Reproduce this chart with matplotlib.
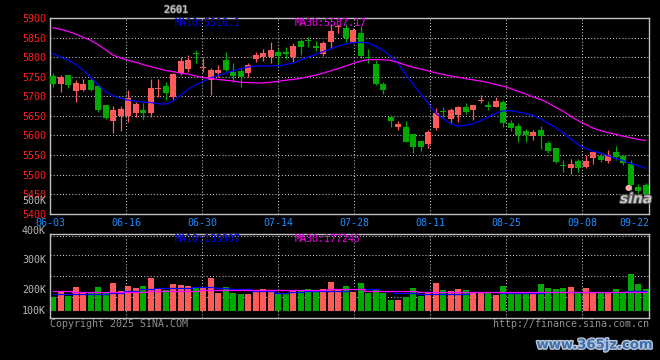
import numpy as np
import matplotlib
matplotlib.use("Agg")
import matplotlib.pyplot as plt
import matplotlib.patheffects as pe

# ---------------- data ----------------
date_labels = ["06-03", "06-16", "06-30", "07-14", "07-28", "08-11", "08-25", "09-08", "09-22"]
price_ticks = [5400, 5450, 5500, 5550, 5600, 5650, 5700, 5750, 5800, 5850, 5900]
vol_tick_labels = ["500K", "400K", "300K", "200K", "100K"]

opens = [5752, 5732, 5754, 5714, 5717, 5741, 5726, 5678, 5637, 5649,
         5649, 5658, 5665, 5658, 5719, 5726, 5697, 5759, 5770, 5809,
         5773, 5741, 5760, 5793, 5763, 5765, 5759, 5794, 5800, 5801,
         5814, 5814, 5800, 5842, 5842, 5828, 5808, 5838, 5876, 5874,
         5839, 5862, 5801, 5782, 5731, 5646, 5622, 5621, 5603, 5585,
         5578, 5619, 5661, 5642, 5652, 5672, 5665, 5687, 5678, 5673,
         5686, 5632, 5624, 5611, 5599, 5614, 5581, 5567, 5525, 5516,
         5534, 5520, 5543, 5548, 5534, 5558, 5548, 5527, 5469, 5473]
highs = [5760, 5754, 5755, 5741, 5745, 5748, 5731, 5678, 5676, 5676,
         5716, 5686, 5682, 5744, 5743, 5737, 5759, 5801, 5805, 5818,
         5797, 5771, 5780, 5814, 5784, 5775, 5784, 5814, 5820, 5839,
         5822, 5827, 5835, 5846, 5852, 5842, 5840, 5884, 5882, 5884,
         5874, 5880, 5822, 5793, 5737, 5652, 5637, 5637, 5603, 5585,
         5614, 5669, 5672, 5670, 5675, 5683, 5678, 5703, 5688, 5697,
         5690, 5639, 5631, 5616, 5614, 5624, 5586, 5567, 5537, 5539,
         5539, 5550, 5558, 5554, 5564, 5573, 5551, 5537, 5475, 5479]
lows = [5724, 5712, 5720, 5686, 5714, 5713, 5661, 5641, 5607, 5612,
        5635, 5648, 5642, 5648, 5699, 5690, 5690, 5754, 5763, 5784,
        5763, 5703, 5748, 5764, 5737, 5724, 5748, 5787, 5791, 5786,
        5781, 5794, 5784, 5805, 5825, 5816, 5804, 5822, 5862, 5838,
        5836, 5797, 5784, 5729, 5707, 5622, 5614, 5582, 5554, 5561,
        5567, 5614, 5646, 5631, 5635, 5656, 5639, 5682, 5665, 5673,
        5622, 5611, 5584, 5584, 5588, 5565, 5556, 5530, 5507, 5501,
        5507, 5517, 5528, 5533, 5530, 5537, 5524, 5460, 5453, 5443]
closes = [5731, 5750, 5730, 5735, 5732, 5717, 5665, 5644, 5665, 5667,
          5695, 5680, 5658, 5720, 5721, 5709, 5756, 5790, 5793, 5807,
          5775, 5767, 5767, 5767, 5752, 5748, 5780, 5805, 5811, 5818,
          5802, 5808, 5828, 5826, 5840, 5823, 5836, 5866, 5878, 5848,
          5869, 5803, 5799, 5731, 5716, 5637, 5628, 5584, 5571, 5571,
          5608, 5658, 5659, 5665, 5672, 5660, 5678, 5689, 5672, 5688,
          5631, 5619, 5601, 5601, 5609, 5599, 5560, 5533, 5523, 5527,
          5517, 5535, 5558, 5537, 5550, 5544, 5530, 5473, 5458, 5450]

ma10 = [5809, 5800, 5793, 5781, 5767, 5749, 5729, 5712, 5701, 5695,
        5690, 5688, 5685, 5684, 5681, 5680, 5688, 5703, 5718, 5729,
        5738, 5747, 5753, 5759, 5765, 5770, 5775, 5777, 5777, 5778,
        5778, 5781, 5785, 5793, 5800, 5807, 5814, 5821, 5828, 5834,
        5837, 5838, 5836, 5828, 5817, 5803, 5785, 5757, 5731, 5706,
        5683, 5657, 5643, 5630, 5624, 5626, 5630, 5638, 5647, 5656,
        5663, 5663, 5660, 5656, 5651, 5642, 5631, 5620, 5607, 5591,
        5577, 5566, 5560, 5555, 5548, 5541, 5536, 5528, 5523, 5516.1]
ma30 = [5875, 5871, 5866, 5859, 5851, 5843, 5832, 5819, 5805, 5798,
        5792, 5787, 5781, 5776, 5771, 5766, 5763, 5759, 5757, 5752,
        5748, 5746, 5743, 5741, 5739, 5736, 5735, 5734, 5734, 5736,
        5738, 5741, 5743, 5746, 5750, 5754, 5759, 5765, 5771, 5777,
        5784, 5790, 5793, 5794, 5793, 5792, 5786, 5780, 5774, 5770,
        5765, 5760, 5756, 5752, 5749, 5745, 5742, 5739, 5735, 5730,
        5726, 5720, 5713, 5706, 5698, 5692, 5683, 5672, 5662, 5649,
        5638, 5628, 5619, 5612, 5607, 5603, 5598, 5594, 5590, 5587.17]

volume_k = [131, 177, 140, 223, 162, 162, 223, 162, 260, 186,
            229, 214, 229, 305, 214, 193, 248, 239, 229, 208,
            217, 305, 168, 223, 168, 156, 156, 186, 202, 186,
            168, 156, 183, 183, 202, 186, 202, 269, 202, 229,
            177, 257, 168, 199, 168, 101, 101, 131, 214, 138,
            168, 260, 193, 186, 202, 193, 172, 177, 162, 147,
            229, 162, 162, 162, 162, 248, 214, 202, 214, 220,
            177, 214, 177, 162, 177, 202, 177, 339, 248, 202]
vol_ma10_k = [156, 156, 156, 156, 156, 156, 156, 156, 168, 168,
              183, 183, 199, 199, 214, 214, 214, 214, 214, 223,
              223, 223, 214, 214, 199, 199, 199, 183, 183, 183,
              168, 168, 177, 177, 186, 186, 186, 186, 186, 186,
              202, 202, 202, 202, 186, 186, 168, 168, 168, 156,
              156, 156, 156, 156, 156, 156, 177, 177, 177, 177,
              168, 168, 168, 168, 168, 168, 177, 177, 177, 177,
              177, 177, 177, 177, 177, 177, 177, 186, 186, 185.907]
vol_ma30_k = [186, 186, 186, 177, 177, 177, 177, 177, 177, 177,
              177, 177, 177, 186, 186, 186, 186, 186, 186, 186,
              193, 193, 193, 193, 193, 193, 193, 193, 193, 193,
              193, 193, 193, 190, 190, 190, 190, 199, 199, 199,
              199, 199, 186, 186, 186, 186, 186, 186, 186, 177,
              177, 177, 177, 177, 177, 177, 177, 177, 177, 177,
              172, 172, 172, 172, 172, 172, 172, 172, 177, 177,
              177, 177, 177, 177, 177, 177, 177, 177, 177, 177.245]

title_text = "2601"
ma_price_texts = ["MA10:5516.1", "MA30:5587.17"]
ma_vol_texts = ["MA10:185907", "MA30:177245"]

# ---------------- styling ----------------
W, H = 660, 360
BG = "black"
UP = "#ff5a5a"
DOWN = "#00aa00"
GRID = "#c8c8c8"
BORDER = "#c0c0c0"
MONO = "DejaVu Sans Mono"
dotted = (0, (1, 2))

def fx(px):
    return px / W

def fy(py):
    return 1 - py / H

fig = plt.figure(figsize=(W / 100, H / 100), dpi=100, facecolor=BG)

# axes placement in pixels
L, R = 50, 649.3
ax = fig.add_axes([fx(L), fy(213.7), fx(R - L), (213.7 - 18) / H], facecolor=BG)
axv = fig.add_axes([fx(L), fy(318.3), fx(R - L), (318.3 - 234.3) / H], facecolor=BG)

n = len(opens)
x = np.arange(n)
o = np.array(opens, float)
c = np.array(closes, float)
hi = np.array(highs, float)
lo = np.array(lows, float)
up = c >= o
cols = np.where(up, UP, DOWN)

xmin, xmax = -0.4, 79.5
grid_step = 76 / 7.5
grid_x = [xmin + k * grid_step for k in range(8)]

# --- price panel ---
ax.set_xlim(xmin, xmax)
ax.set_ylim(5400, 5900)
for gx in grid_x[1:]:
    ax.axvline(gx, color=GRID, lw=0.75, ls=dotted, zorder=0)
for p in price_ticks[1:-1]:
    ax.axhline(p, color=GRID, lw=0.75, ls=dotted, zorder=0)

ax.vlines(x, lo, hi, colors=cols, lw=0.9, zorder=2)
body_h = np.maximum(np.abs(c - o), 2.6)
ax.bar(x, body_h, bottom=np.minimum(o, c), width=0.8, color=cols, lw=0, zorder=3)
ax.plot(x, ma10, color="#0000ff", lw=0.9, zorder=4)
ax.plot(x, ma30, color="#ff00ff", lw=0.9, zorder=4)

ax.set_yticks(price_ticks)
ax.set_yticklabels([str(p) for p in price_ticks], color="#ff2020",
                   fontsize=7.2, family=MONO)
tick_pos = grid_x + [xmax]
ax.set_xticks(tick_pos)
ax.set_xticklabels(date_labels, color="#1e8cff", fontsize=7.2, family=MONO)
ax.get_xticklabels()[-1].set_ha("right")
ax.tick_params(length=0, pad=3)
for s in ax.spines.values():
    s.set_color(BORDER)
    s.set_linewidth(1)

# --- volume panel ---
vlo, vhi = -67, 704
axv.set_xlim(xmin, xmax)
axv.set_ylim(vlo, vhi)
for gx in grid_x[1:]:
    axv.axvline(gx, color=GRID, lw=0.75, ls=dotted, zorder=0)
for f in (0.25, 0.5, 0.75, 0.985):
    axv.axhline(vlo + f * (vhi - vlo), color=GRID, lw=0.75, ls=dotted, zorder=0)
axv.bar(x, volume_k, width=0.8, color=cols, lw=0, zorder=2)
axv.plot(x, vol_ma10_k, color="#0000ff", lw=0.9, zorder=3, drawstyle="steps-mid")
axv.plot(x, vol_ma30_k, color="#ff00ff", lw=0.9, zorder=3, drawstyle="steps-mid")
axv.set_xticks([])
axv.set_yticks([])
for s in axv.spines.values():
    s.set_color(BORDER)
    s.set_linewidth(1)

# volume axis labels (Sina places them irregularly)
vol_label_py = [200.7, 231, 260.3, 290.3, 310.8]
for lab, py in zip(vol_tick_labels, vol_label_py):
    fig.text(fx(46), fy(py), lab, color="#b8b8b8", fontsize=7.2, family=MONO,
             ha="right", va="center")

# --- texts ---
fig.text(fx(176), fy(9.7), title_text, color="#d0d0d0", fontsize=7.2, family=MONO,
         ha="center", va="center",
         path_effects=[pe.withStroke(linewidth=1.0, foreground="#606060")])
fig.text(fx(175), fy(23.3), ma_price_texts[0], color="#0000ff", fontsize=7.2,
         family=MONO, ha="left", va="center")
fig.text(fx(295), fy(23.3), ma_price_texts[1], color="#ff00ff", fontsize=7.2,
         family=MONO, ha="left", va="center")
fig.text(fx(175), fy(238.5), ma_vol_texts[0], color="#0000ff", fontsize=7.2,
         family=MONO, ha="left", va="center")
fig.text(fx(295), fy(238.5), ma_vol_texts[1], color="#ff00ff", fontsize=7.2,
         family=MONO, ha="left", va="center")
fig.text(fx(50), fy(324), "Copyright 2025 SINA.COM", color="#909090", fontsize=7.2,
         family=MONO, ha="left", va="center")
fig.text(fx(649.3), fy(324), "http://finance.sina.com.cn", color="#909090",
         fontsize=7.2, family=MONO, ha="right", va="center")

# sina logo watermark in the price panel
fig.text(fx(636), fy(199), "sina", color="#c8c8c8", fontsize=10, style="italic",
         weight="bold", ha="center", va="center",
         path_effects=[pe.withStroke(linewidth=1.5, foreground="#505050")])
fig.text(fx(628), fy(187), "\u25cf", color="#ffb0b0", fontsize=6,
         ha="center", va="center")

# site watermark
fig.text(fx(595), fy(345), "www.365jz.com", color="#3f6fae", fontsize=9.5,
         weight="bold", ha="center", va="center",
         path_effects=[pe.withStroke(linewidth=2, foreground="#b8c4d8")])

fig.savefig("out.png", dpi=100, facecolor=BG)
